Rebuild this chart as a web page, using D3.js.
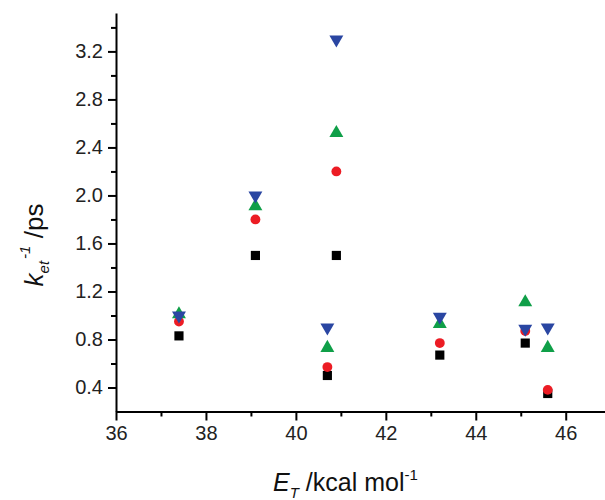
<!DOCTYPE html>
<meta charset="utf-8">
<head>
  <title>k_et vs E_T</title>
</head>
<style>
body { margin: 0; background: #fff; }
.axis path, .axis line { stroke: #000; stroke-width: 2px; }
.label { font-family: "Liberation Sans", Arial, sans-serif; fill: #111; }
</style>
<body>
<script src="https://d3js.org/d3.v7.min.js"></script>
<script>
var width = 605,
  height = 500

// energies (kcal/mol)
var energies = [37.4, 39.1, 40.7, 40.9, 43.2, 45.1, 45.6]
// 1/k_et (ps) for four series
var squares   = [0.83, 1.50, 0.50, 1.50, 0.67, 0.77, 0.35]
var circles   = [0.95, 1.80, 0.57, 2.20, 0.77, 0.87, 0.38]
var upTris    = [1.01, 1.91, 0.73, 2.52, 0.93, 1.11, 0.73]
var downTris  = [1.00, 2.00, 0.90, 3.30, 0.99, 0.89, 0.90]

var xTicks = [36, 38, 40, 42, 44, 46]
var yTicks = [0.4, 0.8, 1.2, 1.6, 2.0, 2.4, 2.8, 3.2]

var svg = d3.select("body").append("svg")
    .attr("width", width)
    .attr("height", height)

var x = d3.scaleLinear().domain([36, 47]).range([116, 610.7])
var y = d3.scaleLinear().domain([0.2, 3.52]).range([411.5, 13])

// minor ticks first
svg.append("g")
    .attr("class", "axis")
    .attr("transform", "translate(0,411.5)")
    .call(d3.axisBottom(x).tickValues(d3.range(37, 47, 2)).tickSize(5).tickFormat(""))
    .select(".domain").remove()
svg.append("g")
    .attr("class", "axis")
    .attr("transform", "translate(116,0)")
    .call(d3.axisLeft(y).tickValues(d3.range(0.6, 3.5, 0.4)).tickSize(5).tickFormat(""))
    .select(".domain").remove()

var xAxis = svg.append("g")
    .attr("class", "axis")
    .attr("transform", "translate(0,411.5)")
    .call(d3.axisBottom(x).tickValues(xTicks).tickSize(9).tickSizeOuter(0).tickPadding(5).tickFormat(d3.format("d")))

var yAxis = svg.append("g")
    .attr("class", "axis")
    .attr("transform", "translate(116,0)")
    .call(d3.axisLeft(y).tickValues(yTicks).tickSize(8).tickSizeOuter(0).tickPadding(5).tickFormat(d3.format(".1f")))

svg.selectAll(".axis text")
    .style("font-family", "'Liberation Sans', Arial, sans-serif")
    .style("font-size", "20px")
    .style("fill", "#222")

function plot(vals, shape, color, size) {
  svg.append("g").selectAll("path")
    .data(vals)
    .enter().append("path")
      .attr("transform", function(d, i) {
        var t = "translate(" + x(energies[i]) + "," + y(d) + ")"
        return shape == "down" ? t + " rotate(180)" : t
      })
      .attr("d", d3.symbol().type(shape == "square" ? d3.symbolSquare : shape == "circle" ? d3.symbolCircle : d3.symbolTriangle).size(size))
      .attr("fill", color)
}

plot(squares, "square", "#000000", 84)
plot(circles, "circle", "#ec1c24", 76)
plot(upTris, "up", "#0f9f48", 84)
plot(downTris, "down", "#2a46a2", 84)

// y label
var yl = svg.append("text")
    .attr("class", "label")
    .attr("transform", "translate(43,245) rotate(-90)")
    .attr("text-anchor", "middle")
    .style("font-size", "26px")
yl.append("tspan").style("font-style", "italic").text("k")
yl.append("tspan").attr("dy", 6).style("font-size", "15px").style("font-style", "italic").text("et")
yl.append("tspan").attr("dy", -19).attr("dx", 2).style("font-size", "15px").style("font-style", "italic").text("-1")
yl.append("tspan").attr("dy", 13).text(" /ps")

// x label
var xl = svg.append("text")
    .attr("class", "label")
    .attr("x", 273)
    .attr("y", 491)
    .style("font-size", "25px")
xl.append("tspan").style("font-style", "italic").text("E")
xl.append("tspan").attr("dy", 7).style("font-size", "15px").style("font-style", "italic").text("T")
xl.append("tspan").attr("dy", -7).text(" /kcal mol")
xl.append("tspan").attr("dy", -11).style("font-size", "15px").text("-1")
</script>
</body>
